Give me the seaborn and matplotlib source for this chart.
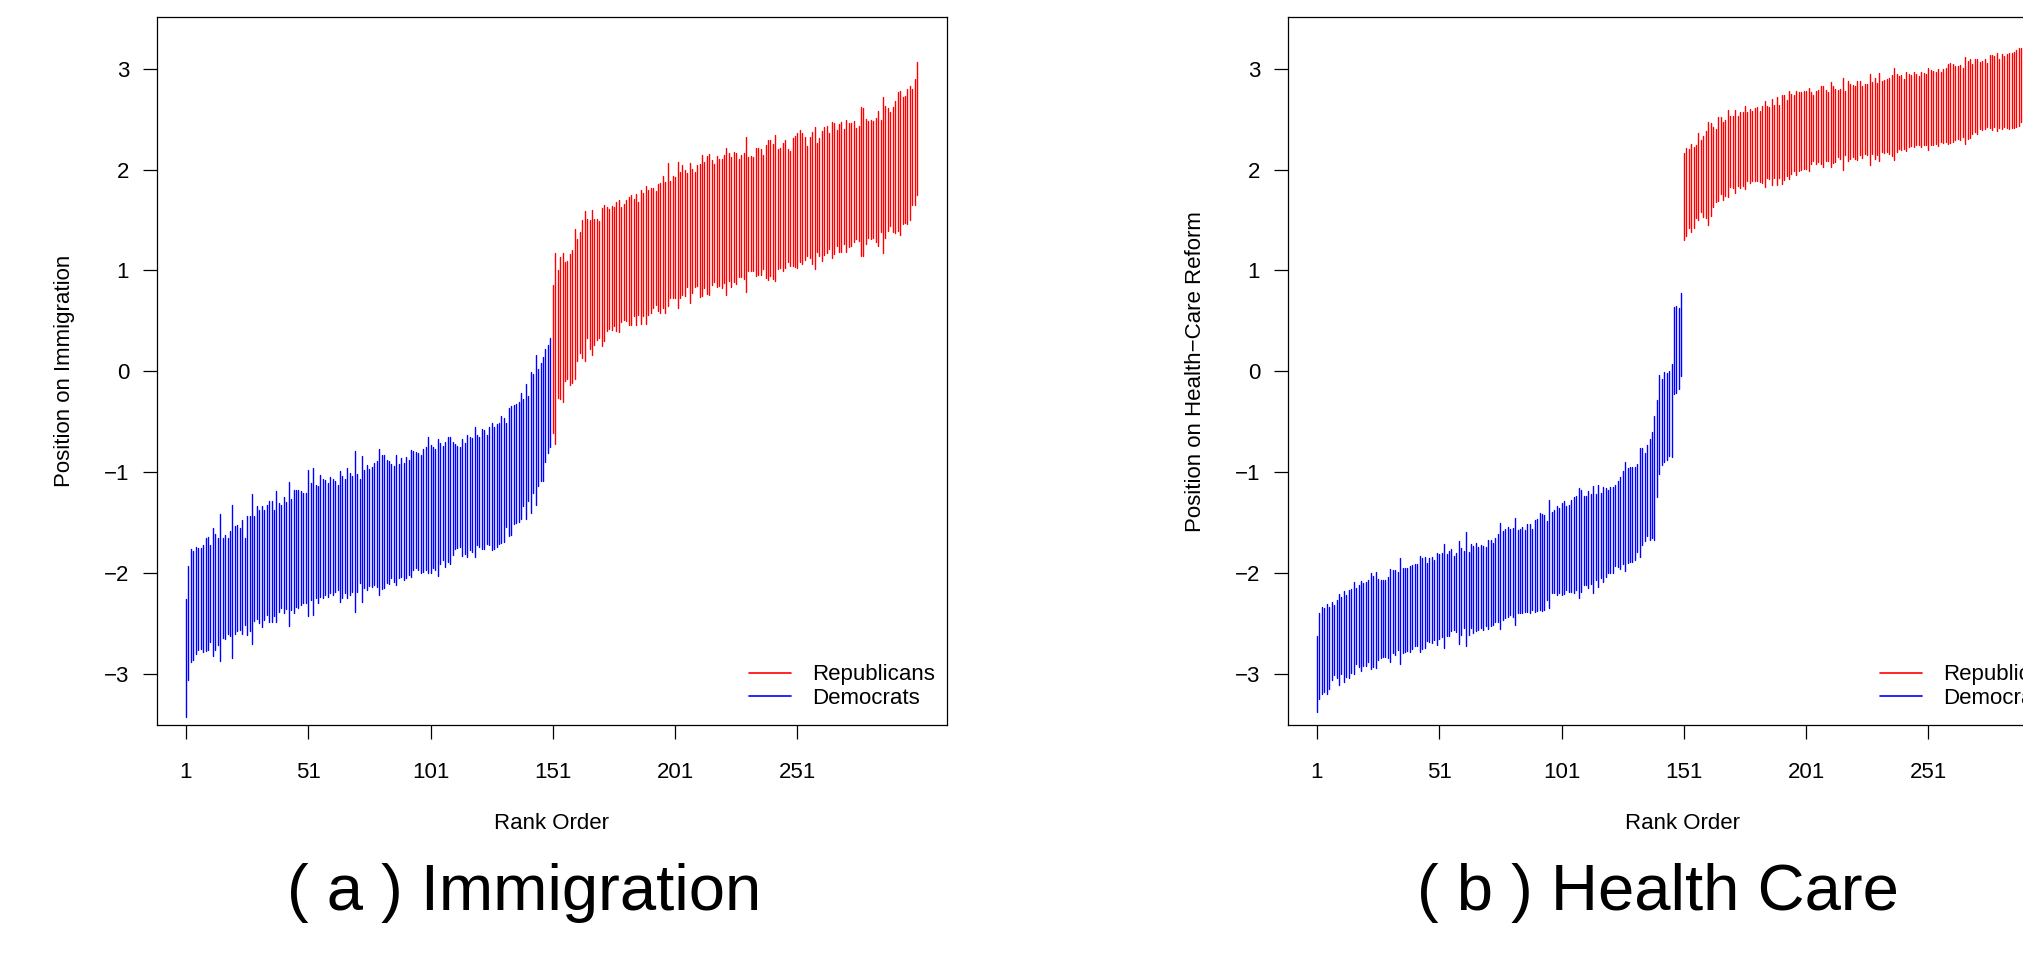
import numpy as np
import pandas as pd
import matplotlib
matplotlib.use("Agg")
import matplotlib.pyplot as plt
import seaborn as sns
from matplotlib.lines import Line2D

# ---------------- data ----------------
# Panel (a) Immigration: interval bounds per member, ordered by rank
imm_dem_hi = [
    -2.26, -1.93, -1.76, -1.78, -1.74, -1.75, -1.75, -1.72, -1.66, -1.65,
    -1.72, -1.56, -1.62, -1.66, -1.42, -1.66, -1.63, -1.66, -1.59, -1.33,
    -1.54, -1.53, -1.56, -1.48, -1.66, -1.44, -1.44, -1.22, -1.44, -1.34,
    -1.38, -1.34, -1.38, -1.33, -1.29, -1.29, -1.38, -1.19, -1.31, -1.33,
    -1.25, -1.30, -1.10, -1.27, -1.18, -1.18, -1.18, -1.19, -1.21, -1.21,
    -0.98, -1.11, -0.96, -1.13, -1.14, -1.03, -1.07, -1.08, -1.11, -1.05,
    -1.07, -1.09, -1.13, -0.99, -1.04, -1.07, -0.96, -1.01, -1.04, -0.79,
    -1.02, -1.07, -0.84, -0.98, -0.93, -0.97, -0.95, -0.91, -0.89, -0.77,
    -0.83, -0.83, -0.88, -0.89, -0.92, -0.94, -0.83, -0.92, -0.86, -0.91,
    -0.85, -0.88, -0.78, -0.79, -0.80, -0.81, -0.83, -0.77, -0.75, -0.65,
    -0.73, -0.75, -0.77, -0.67, -0.71, -0.74, -0.70, -0.65, -0.65, -0.70,
    -0.72, -0.74, -0.75, -0.67, -0.71, -0.63, -0.65, -0.66, -0.55, -0.63,
    -0.65, -0.57, -0.58, -0.63, -0.55, -0.51, -0.55, -0.52, -0.51, -0.44,
    -0.46, -0.51, -0.37, -0.35, -0.34, -0.33, -0.31, -0.22, -0.28, -0.13,
    -0.25, -0.01, -0.03, 0.16, 0.02, 0.08, 0.14, 0.22, 0.26, 0.33,
]
imm_dem_lo = [
    -3.43, -3.06, -2.89, -2.87, -2.81, -2.77, -2.76, -2.79, -2.78, -2.77,
    -2.69, -2.83, -2.77, -2.72, -2.88, -2.65, -2.66, -2.61, -2.63, -2.85,
    -2.61, -2.58, -2.57, -2.61, -2.52, -2.62, -2.58, -2.71, -2.48, -2.46,
    -2.50, -2.54, -2.47, -2.42, -2.49, -2.49, -2.43, -2.49, -2.39, -2.35,
    -2.40, -2.36, -2.53, -2.37, -2.40, -2.34, -2.35, -2.32, -2.30, -2.30,
    -2.43, -2.27, -2.42, -2.25, -2.30, -2.24, -2.25, -2.22, -2.24, -2.20,
    -2.22, -2.19, -2.17, -2.29, -2.25, -2.20, -2.25, -2.22, -2.19, -2.39,
    -2.19, -2.10, -2.29, -2.15, -2.17, -2.13, -2.14, -2.12, -2.14, -2.22,
    -2.16, -2.15, -2.10, -2.11, -2.05, -2.09, -2.12, -2.05, -2.04, -2.07,
    -2.05, -2.02, -2.04, -1.97, -1.95, -1.97, -2.00, -1.99, -1.97, -2.00,
    -2.00, -1.95, -1.97, -2.03, -1.91, -1.87, -1.94, -1.89, -1.91, -1.82,
    -1.76, -1.75, -1.74, -1.83, -1.81, -1.84, -1.77, -1.79, -1.84, -1.72,
    -1.74, -1.76, -1.76, -1.71, -1.72, -1.77, -1.76, -1.74, -1.71, -1.70,
    -1.69, -1.55, -1.64, -1.63, -1.52, -1.51, -1.50, -1.47, -1.34, -1.47,
    -1.29, -1.41, -1.21, -1.33, -1.14, -1.09, -1.09, -0.90, -0.81, -0.75,
]
imm_rep_hi = [
    0.85, 1.17, 1.00, 1.13, 1.17, 1.08, 1.09, 1.16, 1.20, 1.41,
    1.31, 1.38, 1.50, 1.59, 1.51, 1.50, 1.60, 1.51, 1.51, 1.49,
    1.62, 1.65, 1.63, 1.61, 1.64, 1.63, 1.68, 1.70, 1.63, 1.66,
    1.70, 1.73, 1.75, 1.71, 1.76, 1.68, 1.80, 1.77, 1.84, 1.80,
    1.82, 1.82, 1.79, 1.86, 1.87, 1.94, 1.88, 2.06,
    1.89, 1.94, 1.93, 2.07, 1.98, 2.04, 2.00, 1.97, 2.06, 2.01,
    1.98, 2.04, 2.05, 2.14, 2.07, 2.13, 2.15, 2.09, 2.05, 2.13,
    2.10, 2.10, 2.14, 2.21, 2.16, 2.12, 2.17, 2.16, 2.10, 2.14,
    2.16, 2.32, 2.12, 2.13, 2.12, 2.21, 2.21, 2.20, 2.14, 2.24,
    2.29, 2.29, 2.25, 2.34, 2.20, 2.21, 2.26, 2.29, 2.20, 2.18,
    2.31, 2.33, 2.36, 2.39, 2.36, 2.32, 2.23, 2.32, 2.37, 2.42,
    2.26, 2.31, 2.38, 2.42, 2.43, 2.36, 2.47, 2.46, 2.39, 2.45,
    2.47, 2.40, 2.49, 2.46, 2.46, 2.48, 2.41, 2.43, 2.62, 2.61,
    2.50, 2.48, 2.49, 2.48, 2.51, 2.58, 2.49, 2.72, 2.63, 2.61,
    2.57, 2.62, 2.68, 2.77, 2.78, 2.72, 2.73, 2.80, 2.83, 2.80, 2.90, 3.07,
]
imm_rep_lo = [
    -0.61, -0.72, -0.27, -0.28, -0.31, -0.10, -0.08, -0.14, -0.12, -0.08,
    0.10, 0.18, 0.13, 0.10, 0.33, 0.22, 0.16, 0.26, 0.31, 0.33,
    0.25, 0.30, 0.40, 0.42, 0.41, 0.45, 0.40, 0.39, 0.49, 0.51,
    0.50, 0.46, 0.46, 0.55, 0.46, 0.56, 0.47, 0.55, 0.47, 0.56,
    0.58, 0.63, 0.66, 0.60, 0.58, 0.63, 0.58, 0.65,
    0.73, 0.73, 0.73, 0.63, 0.73, 0.76, 0.75, 0.83, 0.68, 0.78,
    0.83, 0.84, 0.74, 0.75, 0.82, 0.77, 0.76, 0.85, 0.88, 0.83,
    0.84, 0.82, 0.87, 0.76, 0.89, 0.83, 0.88, 0.86, 0.93, 0.93,
    0.91, 0.79, 0.99, 0.99, 0.99, 0.94, 0.95, 0.95, 1.01, 0.92,
    0.90, 0.94, 0.91, 0.89, 1.01, 1.02, 0.99, 1.02, 1.08, 1.04,
    1.04, 1.03, 1.02, 1.08, 1.06, 1.10, 1.14, 1.12, 1.06, 1.01,
    1.18, 1.14, 1.09, 1.15, 1.17, 1.21, 1.12, 1.16, 1.24, 1.18,
    1.18, 1.26, 1.18, 1.23, 1.24, 1.28, 1.31, 1.29, 1.14, 1.14,
    1.26, 1.32, 1.31, 1.32, 1.28, 1.24, 1.38, 1.17, 1.32, 1.39,
    1.44, 1.38, 1.37, 1.39, 1.35, 1.46, 1.47, 1.46, 1.50, 1.65, 1.65, 1.75,
]

# Panel (b) Health Care (the reference crops the panel at its right edge)
hc_dem_hi = [
    -2.63, -2.40, -2.34, -2.35, -2.31, -2.34, -2.29, -2.32, -2.27, -2.21,
    -2.24, -2.18, -2.22, -2.17, -2.16, -2.09, -2.15, -2.12, -2.08, -2.10,
    -2.09, -2.07, -2.00, -2.03, -1.99, -2.06, -2.07, -2.07, -2.07, -2.04,
    -1.96, -1.97, -1.97, -1.99, -1.85, -1.95, -1.95, -1.95, -1.93, -1.92,
    -1.91, -1.91, -1.83, -1.85, -1.84, -1.90, -1.85, -1.84, -1.87, -1.80,
    -1.81, -1.80, -1.71, -1.81, -1.78, -1.76, -1.83, -1.80, -1.68, -1.75,
    -1.78, -1.60, -1.79, -1.71, -1.73, -1.70, -1.74, -1.72, -1.73, -1.74,
    -1.67, -1.67, -1.70, -1.66, -1.62, -1.51, -1.59, -1.57, -1.55, -1.57,
    -1.56, -1.46, -1.58, -1.57, -1.55, -1.58, -1.52, -1.52, -1.57, -1.48,
    -1.47, -1.41, -1.42, -1.43, -1.49, -1.28, -1.40, -1.38, -1.34, -1.36,
    -1.31, -1.29, -1.34, -1.33, -1.28, -1.25, -1.24, -1.16, -1.18, -1.24,
    -1.24, -1.19, -1.22, -1.14, -1.22, -1.13, -1.21, -1.15, -1.16, -1.18,
    -1.15, -1.15, -1.13, -1.09, -1.05, -0.99, -0.90, -0.96, -0.95, -0.95,
    -0.95, -0.92, -0.76, -0.76, -0.81, -0.73, -0.67, -0.60, -0.44, -0.29,
    -0.04, -0.08, -0.01, -0.02, 0.00, 0.07, 0.64, 0.65, 0.63, 0.78,
]
hc_dem_lo = [
    -3.38, -3.25, -3.20, -3.18, -3.20, -3.15, -3.06, -3.01, -3.04, -3.11,
    -3.00, -3.08, -3.03, -3.04, -2.99, -3.00, -2.90, -2.93, -2.97, -2.92,
    -2.92, -2.89, -2.95, -2.93, -2.94, -2.87, -2.85, -2.84, -2.84, -2.85,
    -2.89, -2.80, -2.82, -2.77, -2.90, -2.80, -2.79, -2.78, -2.79, -2.76,
    -2.73, -2.73, -2.79, -2.76, -2.75, -2.68, -2.69, -2.70, -2.67, -2.72,
    -2.66, -2.64, -2.75, -2.63, -2.63, -2.58, -2.57, -2.59, -2.71, -2.62,
    -2.55, -2.73, -2.62, -2.55, -2.60, -2.58, -2.57, -2.55, -2.57, -2.53,
    -2.56, -2.53, -2.52, -2.49, -2.49, -2.56, -2.47, -2.45, -2.44, -2.42,
    -2.44, -2.52, -2.40, -2.40, -2.40, -2.39, -2.39, -2.40, -2.37, -2.39,
    -2.38, -2.37, -2.38, -2.37, -2.27, -2.35, -2.20, -2.20, -2.22, -2.20,
    -2.22, -2.21, -2.17, -2.19, -2.19, -2.20, -2.17, -2.25, -2.19, -2.12,
    -2.12, -2.15, -2.11, -2.20, -2.07, -2.14, -2.05, -2.09, -2.04, -2.00,
    -2.00, -2.00, -1.93, -1.94, -1.96, -1.91, -1.98, -1.90, -1.89, -1.89,
    -1.87, -1.79, -1.84, -1.72, -1.68, -1.64, -1.67, -1.66, -1.67, -1.25,
    -1.02, -0.93, -0.90, -0.88, -0.84, -0.85, -0.23, -0.22, -0.18, -0.05,
]
hc_rep_hi = [
    2.16, 2.21, 2.20, 2.25, 2.22, 2.24, 2.36, 2.29, 2.33, 2.38,
    2.47, 2.46, 2.42, 2.40, 2.52, 2.52, 2.47, 2.49, 2.59, 2.53,
    2.53, 2.59, 2.53, 2.57, 2.57, 2.63, 2.57, 2.60, 2.58, 2.61,
    2.62, 2.58, 2.63, 2.68, 2.63, 2.62, 2.70, 2.64, 2.72, 2.64,
    2.74, 2.74, 2.69, 2.78, 2.75, 2.74, 2.78, 2.77, 2.77, 2.78,
    2.78, 2.81, 2.77, 2.74, 2.78, 2.79, 2.83, 2.83, 2.79, 2.77,
    2.87, 2.83, 2.80, 2.79, 2.80, 2.91, 2.78, 2.88, 2.85, 2.84,
    2.83, 2.88, 2.88, 2.83, 2.85, 2.85, 2.95, 2.87, 2.91, 2.86,
    2.96, 2.88, 2.89, 2.90, 2.91, 2.94, 3.01, 2.95, 2.93, 2.94,
    2.90, 2.97, 2.95, 2.94, 2.97, 2.95, 2.93, 2.97, 2.96, 2.95,
    3.01, 2.99, 2.98, 2.97, 3.00, 2.97, 3.00, 3.01, 3.05, 3.06,
    3.05, 3.03, 3.03, 3.04, 3.01, 3.12, 3.08, 3.10, 3.05, 3.10,
    3.10, 3.07, 3.08, 3.10, 3.06, 3.14, 3.14, 3.13, 3.16, 3.10,
    3.15, 3.13, 3.15, 3.16, 3.16, 3.17, 3.19, 3.21, 3.21,
]
hc_rep_lo = [
    1.30, 1.34, 1.42, 1.38, 1.42, 1.52, 1.50, 1.58, 1.53, 1.52,
    1.45, 1.54, 1.63, 1.68, 1.69, 1.76, 1.70, 1.74, 1.73, 1.83,
    1.82, 1.77, 1.84, 1.82, 1.84, 1.81, 1.89, 1.87, 1.89, 1.89,
    1.89, 1.88, 1.87, 1.83, 1.92, 1.91, 1.85, 1.92, 1.85, 1.92,
    1.86, 1.90, 1.94, 1.91, 1.96, 1.99, 1.95, 1.99, 2.00, 2.01,
    2.01, 1.99, 2.05, 2.08, 2.05, 2.07, 2.05, 2.03, 2.08, 2.08,
    2.03, 2.06, 2.07, 2.12, 2.10, 2.00, 2.14, 2.08, 2.10, 2.12,
    2.10, 2.09, 2.14, 2.11, 2.15, 2.14, 2.04, 2.15, 2.10, 2.14,
    2.08, 2.17, 2.16, 2.17, 2.15, 2.13, 2.09, 2.17, 2.20, 2.19,
    2.20, 2.18, 2.22, 2.23, 2.22, 2.24, 2.24, 2.22, 2.24, 2.24,
    2.19, 2.24, 2.24, 2.25, 2.23, 2.27, 2.26, 2.27, 2.25, 2.26,
    2.27, 2.29, 2.30, 2.29, 2.32, 2.25, 2.30, 2.31, 2.35, 2.37,
    2.35, 2.40, 2.39, 2.40, 2.42, 2.41, 2.39, 2.42, 2.38, 2.41,
    2.40, 2.42, 2.41, 2.40, 2.41, 2.41, 2.42, 2.43, 2.47,
]

n_members = 300
x_ticks = [1, 51, 101, 151, 201, 251]
y_ticks = [-3, -2, -1, 0, 1, 2, 3]
parties = ["Republicans", "Democrats"]
party_colors = {"Republicans": "#FF0000", "Democrats": "#0000FF"}
ylabels = ["Position on Immigration", "Position on Health\u2212Care Reform"]
captions = ["( a ) Immigration", "( b ) Health Care"]


def long_frame(dem_lo, dem_hi, rep_lo, rep_hi):
    rows = []
    rank = 0
    for party, lo_vals, hi_vals in (("Democrats", dem_lo, dem_hi),
                                    ("Republicans", rep_lo, rep_hi)):
        for lo, hi in zip(lo_vals, hi_vals):
            rank += 1
            rows.append((rank, lo, party, rank))
            rows.append((rank, hi, party, rank))
    return pd.DataFrame(rows, columns=["rank", "position", "party", "member"])


frames = [
    long_frame(imm_dem_lo, imm_dem_hi, imm_rep_lo, imm_rep_hi),
    long_frame(hc_dem_lo, hc_dem_hi, hc_rep_lo, hc_rep_hi),
]

# ---------------- style ----------------
sns.set_style("ticks")
plt.rcParams["font.family"] = ["Liberation Sans", "DejaVu Sans"]
plt.rcParams["axes.unicode_minus"] = True
plt.rcParams["text.color"] = "black"
plt.rcParams["axes.labelcolor"] = "black"
plt.rcParams["xtick.color"] = "black"
plt.rcParams["ytick.color"] = "black"
plt.rcParams["axes.edgecolor"] = "black"

W, H = 2023, 965
fig = plt.figure(figsize=(W / 100, H / 100), dpi=100)
fig.patch.set_facecolor("white")

ax_left_px = [156.7, 1287.7]
ax_w_px, ax_top_px, ax_bot_px = 789.8, 17.3, 725.0
ylabel_x = [-0.1162, -0.1163]
caption_x_px = [524, 1658]

pad_frac = 0.04 * (n_members - 1)
xlim = (1 - pad_frac, n_members + pad_frac)

for k in range(2):
    ax = fig.add_axes([ax_left_px[k] / W, (H - ax_bot_px) / H,
                       ax_w_px / W, (ax_bot_px - ax_top_px) / H])
    sns.lineplot(data=frames[k], x="rank", y="position", hue="party",
                 units="member", estimator=None, hue_order=parties,
                 palette=party_colors, linewidth=1.0, legend=False,
                 sort=False, ax=ax)
    ax.set_xlim(*xlim)
    ax.set_ylim(-3.51, 3.51)
    ax.set_xticks(x_ticks)
    ax.set_yticks(y_ticks)
    ax.set_xticklabels([str(t) for t in x_ticks])
    ax.set_yticklabels([f"{t}".replace("-", "\u2212") for t in y_ticks])
    for sp in ax.spines.values():
        sp.set_visible(True)
        sp.set_color("black")
        sp.set_linewidth(0.9)
    ax.tick_params(axis="both", direction="out", length=10, width=0.9,
                   colors="black", labelsize=16, labelcolor="black")
    ax.tick_params(axis="x", pad=17.0)
    ax.tick_params(axis="y", pad=9.9)
    ax.set_xlabel("Rank Order", fontsize=16, va="center", color="black")
    ax.xaxis.set_label_coords(0.5, -(823.5 - ax_bot_px) / (ax_bot_px - ax_top_px))
    ax.set_ylabel(ylabels[k], fontsize=16, va="center", color="black")
    ax.yaxis.set_label_coords(ylabel_x[k], 0.5)
    handles = [Line2D([0], [0], color=party_colors[p], lw=1.2) for p in parties]
    leg = ax.legend(handles=handles, labels=parties, loc="lower right",
                    bbox_to_anchor=(0.9854, 0.0226), frameon=False, fontsize=16,
                    handlelength=1.9, handletextpad=0.95, labelspacing=0.12,
                    borderpad=0, borderaxespad=0)
    for t in leg.get_texts():
        t.set_color("black")
    fig.text(caption_x_px[k] / W, (H - 910) / H, captions[k], ha="center",
             va="baseline", fontsize=47, color="black")

fig.savefig("out.png", dpi=100, facecolor="white")
